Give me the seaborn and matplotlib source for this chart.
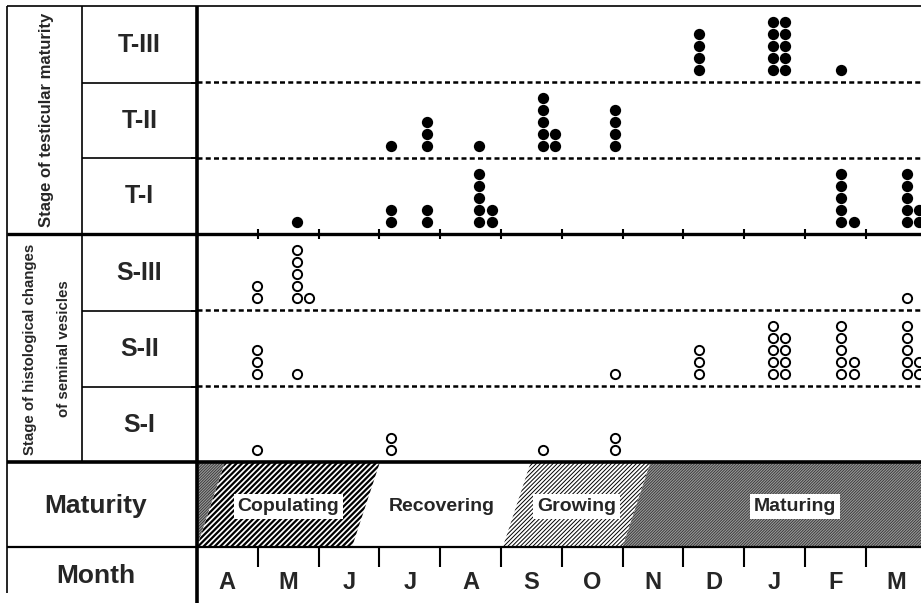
import pandas as pd
import seaborn as sns
import matplotlib.pyplot as plt
from matplotlib.patches import Polygon

# month letters, April -> March
months = ["A", "M", "J", "J", "A", "S", "O", "N", "D", "J", "F", "M"]

# sampling dates, in months counted from 1 April
sample_pos = [0.98, 1.64, 3.19, 3.78, 4.64, 5.69, 6.88, 8.26, 9.47, 10.60, 11.67]

# number of specimens in each stage at each sampling date
stages = ["T-III", "T-II", "T-I", "S-III", "S-II", "S-I"]
t3 = [0, 0, 0, 0, 0, 0, 0, 4, 10, 1, 0]
t2 = [0, 0, 1, 3, 1, 7, 4, 0, 0, 0, 0]
t1 = [0, 1, 2, 2, 7, 0, 0, 0, 0, 6, 7]
s3 = [2, 6, 0, 0, 0, 0, 0, 0, 0, 0, 1]
s2 = [3, 1, 0, 0, 0, 0, 1, 3, 9, 7, 7]
s1 = [1, 0, 2, 0, 0, 1, 2, 0, 0, 0, 0]
stage_counts = [t3, t2, t1, s3, s2, s1]

# maturity phases and the month where each begins (bottom of the band)
phases = ["Copulating", "Recovering", "Growing", "Maturing"]
phase_start = [0.0, 2.55, 5.03, 7.0]

sns.set_style("white")
plt.rcParams['font.family'] = ['Liberation Sans', 'DejaVu Sans']
plt.rcParams['font.weight'] = 'bold'

W, H = 921, 603
XMAX = (W - 197) / 60.8
SLANT = 0.46

# one dot per specimen, stacked five high, overflow into a second column
rows = []
for i, (stage, counts) in enumerate(zip(stages, stage_counts)):
    base = 5 - i
    for pos, n in zip(sample_pos, counts):
        for k in range(n):
            rows.append({"stage": stage, "testis": stage.startswith("T"),
                         "x": pos + 0.205 * (k // 5),
                         "y": base + 0.16 + 0.158 * (k % 5)})
dots = pd.DataFrame(rows)

fig = plt.figure(figsize=(W / 100, H / 100), dpi=100)

def px_axes(x0, y0, x1, y1):
    return fig.add_axes([x0 / W, 1 - y1 / H, (x1 - x0) / W, (y1 - y0) / H])

ax_dots = px_axes(197, 6, W, 462)
ax_mat = px_axes(197, 462, W, 547)
ax_mon = px_axes(197, 547, W, H)

# dots
sns.scatterplot(data=dots[dots.testis], x="x", y="y", ax=ax_dots,
                color="black", s=66, linewidth=0, legend=False)
sns.scatterplot(data=dots[~dots.testis], x="x", y="y", ax=ax_dots,
                color="white", edgecolor="black", s=44, linewidth=1.4,
                legend=False)
for y in [5, 4, 2, 1]:
    ax_dots.axhline(y, color="black", lw=1.8, ls=(0, (2, 1.3)))
ax_dots.vlines(range(1, 12), 2.93, 3.07, color="black", lw=1.5)
ax_dots.set_xlim(0, XMAX)
ax_dots.set_ylim(0, 6)
ax_dots.set_axis_off()

# maturity band
b = phase_start + [XMAX + 1]
dark = dict(facecolor="#9a9a9a", edgecolor="#333333", hatch="/" * 12, hlw=0.6)
styles = {
    "Copulating": dict(facecolor="white", edgecolor="black", hatch="/" * 6, hlw=1.6),
    "Growing": dict(facecolor="white", edgecolor="black", hatch="/" * 8, hlw=0.7),
    "Maturing": dark,
}

def band(x_lo, x_hi, st):
    verts = [(x_lo, 0), (x_hi, 0), (x_hi + SLANT, 1), (x_lo + SLANT, 1)]
    p = Polygon(verts, closed=True, facecolor=st["facecolor"],
                edgecolor=st["edgecolor"], hatch=st["hatch"], lw=0)
    if hasattr(p, "set_hatch_linewidth"):
        p.set_hatch_linewidth(st["hlw"])
    ax_mat.add_patch(p)

band(-1 - SLANT, b[0], dark)
for i, name in enumerate(phases):
    if name in styles:
        band(b[i], b[i + 1], styles[name])
    mid = (b[i] + b[i + 1]) / 2 + SLANT / 2
    if name == "Maturing":
        mid = (b[i] + XMAX + 0.3) / 2 + SLANT / 2
    ax_mat.text(mid, 0.48, name, ha="center", va="center", fontsize=14,
                fontweight="bold",
                bbox=dict(facecolor="white", edgecolor="none", pad=3))
ax_mat.set_xlim(0, XMAX)
ax_mat.set_ylim(0, 1)
ax_mat.set_axis_off()

# month row
ax_mon.vlines(range(1, 12), 0.64, 1, color="black", lw=1.5)
for i, m in enumerate(months):
    ax_mon.text(i + 0.5, 0.36, m, ha="center", va="center", fontsize=17,
                fontweight="bold")
ax_mon.set_xlim(0, XMAX)
ax_mon.set_ylim(0, 1)
ax_mon.set_axis_off()

# table frame and labels, drawn in pixel coordinates
bg = fig.add_axes([0, 0, 1, 1], zorder=5)
bg.set_xlim(0, W)
bg.set_ylim(H, 0)
bg.set_axis_off()
bg.patch.set_alpha(0)

k = dict(color="black", solid_capstyle="butt")
bg.plot([7, 7], [6, 593], lw=1.2, **k)
bg.plot([7, W], [6, 6], lw=1.2, **k)
bg.plot([82, 82], [6, 462], lw=1.2, **k)
bg.plot([197, 197], [6, H], lw=2.6, **k)
for y in [83, 158, 311, 387]:
    bg.plot([82, 197], [y, y], lw=1.2, **k)
    bg.plot([191, 197], [y, y], lw=1.2, **k)
bg.plot([7, W], [234, 234], lw=2.4, **k)
bg.plot([7, W], [462, 462], lw=2.6, **k)
bg.plot([7, W], [547, 547], lw=1.6, **k)

row_mid = [44.5, 120.5, 196, 272.5, 349, 424.5]
for s, y in zip(stages, row_mid):
    bg.text(139.5, y, s, ha="center", va="center", fontsize=18,
            fontweight="bold")
bg.text(47, 120, "Stage of testicular maturity", rotation=90,
        ha="center", va="center", fontsize=12, fontweight="bold")
bg.text(30, 349, "Stage of histological changes", rotation=90,
        ha="center", va="center", fontsize=10.8, fontweight="bold")
bg.text(64, 349, "of seminal vesicles", rotation=90,
        ha="center", va="center", fontsize=10.8, fontweight="bold")
bg.text(96, 506, "Maturity", ha="center", va="center", fontsize=19,
        fontweight="bold")
bg.text(96, 576, "Month", ha="center", va="center", fontsize=19,
        fontweight="bold")

fig.savefig("out.png", dpi=100, facecolor="white")
